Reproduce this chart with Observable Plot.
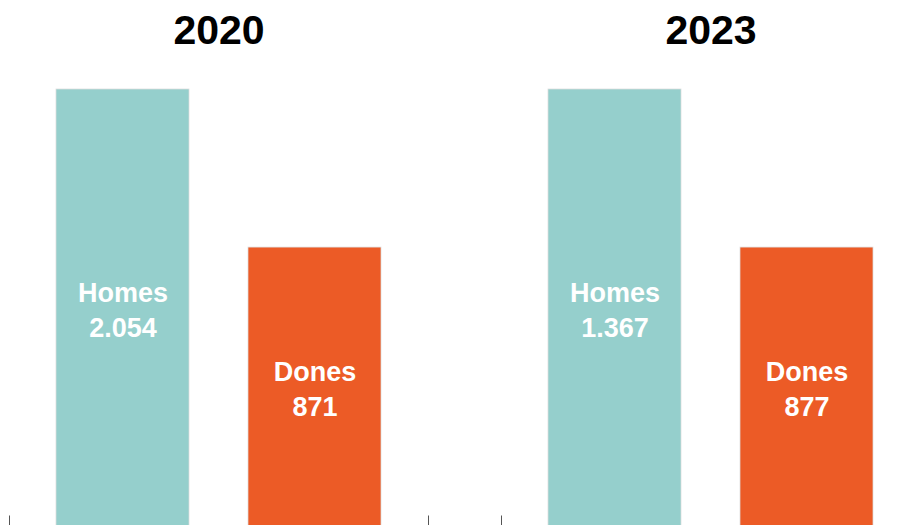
<!DOCTYPE html>
<html>
<head>
<meta charset="utf-8">
<script src="https://cdn.jsdelivr.net/npm/d3@7"></script>
<script src="https://cdn.jsdelivr.net/npm/@observablehq/plot@0.6"></script>
<style>
  html, body { margin: 0; padding: 0; background: #fff; }
  #chart svg { display: block; font-family: "Liberation Sans", Arial, sans-serif; }
</style>
</head>
<body>
<div id="chart"></div>
<script>
// ---- data ----
const years = ["2020", "2023"];
const categories = ["Homes", "Dones"];
const values2020 = [2054, 871];
const values2023 = [1367, 877];
// bar lengths as drawn in the picture (the 2020 bars are drawn at the same length as the 2023 bars)
const drawnLength2020 = [1367, 877];
const drawnLength2023 = [1367, 877];
const colors = ["#95CFCC", "#EC5B26"];

const fmt = d3.formatLocale({decimal: ",", thousands: ".", grouping: [3], currency: ["", "€"]}).format(",d");

const rows = [];
years.forEach((yr, i) => {
  const vals = i === 0 ? values2020 : values2023;
  const lens = i === 0 ? drawnLength2020 : drawnLength2023;
  categories.forEach((c, j) => rows.push({year: yr, category: c, value: vals[j], length: lens[j]}));
});

const chart = Plot.plot({
  width: 914,
  height: 525,
  marginTop: 89,
  marginBottom: -5,
  marginLeft: 9,
  marginRight: -6,
  fx: {domain: years, axis: null, paddingInner: 0.1484, paddingOuter: 0},
  x: {domain: categories, axis: null, paddingInner: 0.308, paddingOuter: 0.244},
  y: {domain: [0, d3.max([...drawnLength2020, ...drawnLength2023])], axis: null},
  color: {domain: categories, range: colors},
  marks: [
    Plot.frame({stroke: "#555", strokeWidth: 1, strokeDasharray: "0,845,15,419,15,2000"}),
    Plot.barY(rows, {fx: "year", x: "category", y: "length", fill: "category", stroke: "#dcdcdc", strokeWidth: 0.75}),
    Plot.text(rows, {
      fx: "year", x: "category", y: d => d.length / 2, dy: -1.5,
      text: d => `${d.category}\n${fmt(d.value)}`,
      fill: "white", fontSize: 27, fontWeight: "bold", lineHeight: 1.27
    }),
    Plot.text(years, {
      fx: d => d, text: d => d, frameAnchor: "top",
      lineAnchor: "bottom", dy: -46,
      fill: "black", fontSize: 41, fontWeight: "bold"
    })
  ]
});
document.getElementById("chart").appendChild(chart);
</script>
</body>
</html>
